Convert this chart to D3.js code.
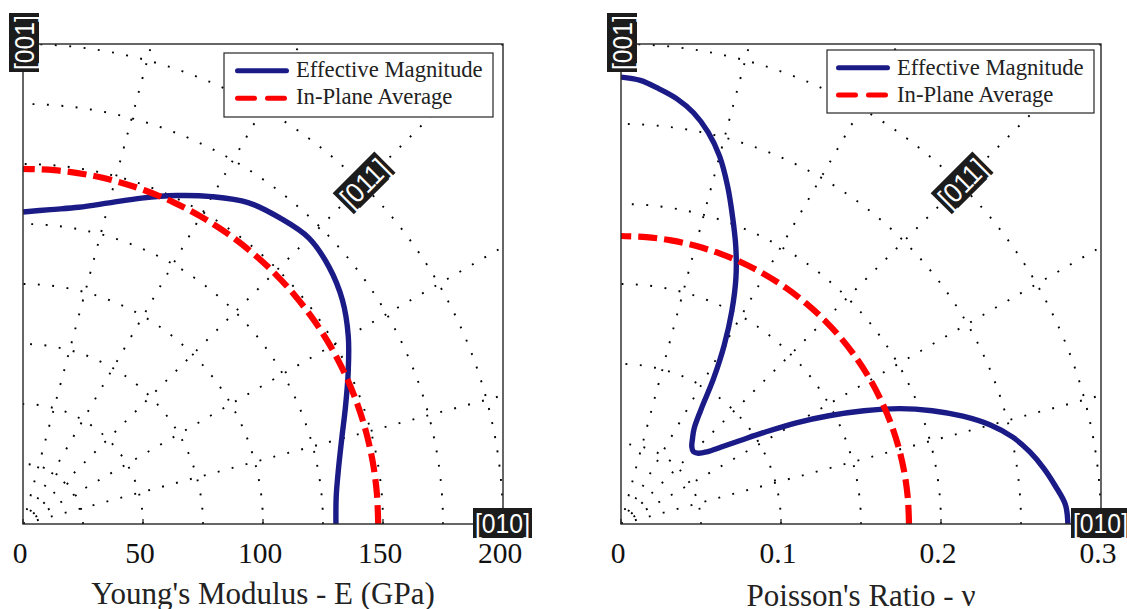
<!DOCTYPE html>
<html><head><meta charset="utf-8">
<script src="https://cdn.jsdelivr.net/npm/d3@7"></script>
<style>
body{margin:0;background:#fff}svg{display:block}
.serif{font-family:"Liberation Serif","Times New Roman",Times,"DejaVu Serif",serif}
.sans{font-family:"Liberation Sans",Arial,Helvetica,sans-serif}
</style>
</head><body><svg id="c" width="1127" height="609"></svg>
<script>
// ---------- data ----------
const leftAngles = [0,5,10,15,20,25,30,35,40,45,50,55,60,65,70,75,80,85,90];
const leftEffective = [130.4,131,133.5,137.5,143,149.5,156.5,162.5,166.5,168.5,166.5,163.5,157.5,151,144.5,138.5,134,131.5,130];
const leftInPlane = [148,148,148,148,148,148,148,148,148,148,148,148,148,148,148,148,148,148,148];

const rightAngles = [0,2.5,5,7.5,10,12.5,15,17.5,20,22.5,25,27.5,30,32.5,35,37.5,40,42.5,45,47.5,50,52.5,55,57.5,60,62.5,65,67.5,70,72.5,75,77.5,80,82.5,85,87.5,90];
const rightEffective = [0.2793,0.2780,0.2725,0.2665,0.2595,0.2508,0.2390,0.2240,0.2070,0.1885,0.1675,0.1465,0.1265,0.1070,0.0910,0.0790,0.0702,0.0655,0.0640,0.0655,0.0695,0.0750,0.0870,0.1075,0.1290,0.1500,0.1700,0.1875,0.2040,0.2215,0.2380,0.2510,0.2610,0.2680,0.2730,0.2775,0.2793];
const rightInPlaneAngles = [0,5,10,15,20,25,30,35,40,45,50,55,60,65,70,75,80,85,90];
const rightInPlane = [0.18,0.18,0.18,0.18,0.18,0.18,0.18,0.18,0.18,0.18,0.18,0.18,0.18,0.18,0.18,0.18,0.18,0.18,0.18];

const leftTicks = [0,50,100,150,200];
const rightTicks = [0,0.1,0.2,0.3];
const leftGridRadii = [25,50,75,100,125,150,175,200];
const rightGridRadii = [0.05,0.1,0.15,0.2,0.25,0.3];
const spokeAngles = [15,30,45,60,75];
const legendLabels = ["Effective Magnitude","In-Plane Average"];
const dirLabels = {top:"[001]", diag:"[011]", right:"[010]"};
const xTitles = ["Young's Modulus - E (GPa)","Poisson's Ratio - \u03bd"];

// ---------- style ----------
const BLUE = "#1b1b87", RED = "#ff0000", AX = "#262626";

const svg = d3.select("#c");

function panel(cfg, idx){
  const {ox, oy, size, max} = cfg;
  const x = d3.scaleLinear().domain([0,max]).range([ox, ox+size]);
  const y = d3.scaleLinear().domain([0,max]).range([oy, oy-size]);
  const r = d3.scaleLinear().domain([0,max]).range([0,size]);
  const g = svg.append("g");

  const clipId = "clip"+idx;
  svg.append("clipPath").attr("id",clipId).append("rect")
    .attr("x",ox).attr("y",oy-size).attr("width",size).attr("height",size);

  // grid
  const grid = g.append("g").attr("clip-path",`url(#${clipId})`)
    .attr("fill","none").attr("stroke","#000").attr("stroke-width",1.9)
    .attr("stroke-dasharray","1.9,12.5");
  cfg.gridRadii.forEach(v=>{
    const p = d3.path();
    const rr = r(v);
    p.moveTo(ox+rr, oy);
    p.arc(ox, oy, rr, 0, -Math.PI/2, true);
    grid.append("path").attr("d", p.toString());
  });
  spokeAngles.forEach(a=>{
    const t = a*Math.PI/180, L = size*1.5;
    grid.append("line").attr("x1",ox).attr("y1",oy)
      .attr("x2",ox+L*Math.cos(t)).attr("y2",oy-L*Math.sin(t));
  });

  // curves
  const radial = d3.lineRadial()
    .angle(d=>(90-d[0])*Math.PI/180)
    .radius(d=>r(d[1]))
    .curve(d3.curveCatmullRom.alpha(0.5));
  const curves = g.append("g").attr("clip-path",`url(#${clipId})`)
    .append("g").attr("transform",`translate(${ox},${oy})`);
  curves.append("path")
    .attr("d", radial(cfg.effA.map((a,i)=>[a,cfg.effR[i]])))
    .attr("fill","none").attr("stroke",BLUE).attr("stroke-width",5.4)
    .attr("stroke-linejoin","round");
  curves.append("path")
    .attr("d", radial(cfg.ipA.map((a,i)=>[a,cfg.ipR[i]])))
    .attr("fill","none").attr("stroke",RED).attr("stroke-width",6.2)
    .attr("stroke-dasharray","19,7");

  // axes box
  g.append("rect").attr("x",ox).attr("y",oy-size).attr("width",size).attr("height",size)
    .attr("fill","none").attr("stroke",AX).attr("stroke-width",1.4);
  // ticks
  cfg.ticks.forEach(v=>{
    g.append("line").attr("x1",x(v)).attr("x2",x(v)).attr("y1",oy).attr("y2",oy-5)
      .attr("stroke",AX).attr("stroke-width",1.3);
    g.append("text").attr("class","serif").attr("x",x(v)-3).attr("y",563)
      .attr("text-anchor","middle").attr("font-size",29.5)
      .attr("fill","#111").text(cfg.fmt(v));
  });
  g.append("text").attr("class","serif").attr("x",ox+size/2).attr("y",cfg.titleY)
    .attr("text-anchor","middle").attr("font-size",31)
    .attr("fill","#222").text(cfg.title);

  // legend
  const L = cfg.legend;
  const lg = g.append("g");
  lg.append("rect").attr("x",L.x).attr("y",L.y).attr("width",L.w).attr("height",L.h)
    .attr("fill","#fff").attr("stroke",AX).attr("stroke-width",1.2);
  lg.append("line").attr("x1",L.x1).attr("x2",L.x2).attr("y1",L.ly1).attr("y2",L.ly1)
    .attr("stroke",BLUE).attr("stroke-width",5).attr("stroke-linecap","round");
  lg.append("line").attr("x1",L.x1).attr("x2",L.x2).attr("y1",L.ly2).attr("y2",L.ly2)
    .attr("stroke",RED).attr("stroke-width",5).attr("stroke-linecap","round")
    .attr("stroke-dasharray","17,13");
  [L.b1, L.b2].forEach((b,i)=>{
    lg.append("text").attr("class","serif").attr("x",L.tx).attr("y",b)
      .attr("font-size",22.7).attr("fill","#222").text(legendLabels[i]);
  });

  // direction labels
  function tag(cx, cy, rot, txt){
    const t = g.append("g").attr("transform",`translate(${cx},${cy}) rotate(${rot})`);
    t.append("rect").attr("x",-29.5).attr("y",-15).attr("width",59).attr("height",30)
      .attr("fill","#1c1c1c");
    t.append("text").attr("class","sans").attr("x",0).attr("y",0).attr("dy","0.36em")
      .attr("text-anchor","middle").attr("font-size",28).attr("fill","#fff")
      .attr("textLength",55).attr("lengthAdjust","spacingAndGlyphs").text(txt);
  }
  tag(x(0)+1, y(max)-1.5, -90, dirLabels.top);
  const d45 = max*1.005/Math.SQRT2;
  tag(x(d45), y(d45), -45, dirLabels.diag);
  tag(x(max)-0.5, y(0)-1, 0, dirLabels.right);
}

panel({ox:23, oy:524, size:480, max:200, gridRadii:leftGridRadii, ticks:leftTicks,
  fmt:d=>String(d), title:xTitles[0], titleY:603.5,
  effA:leftAngles, effR:leftEffective, ipA:leftAngles, ipR:leftInPlane,
  legend:{x:224,y:53,w:269,h:64,x1:237.5,x2:286.5,ly1:70.7,ly2:98.3,tx:296,b1:77,b2:104}}, 0);

panel({ox:621, oy:524, size:480, max:0.3, gridRadii:rightGridRadii, ticks:rightTicks,
  fmt:d=>d===0?"0":d3.format(".1f")(d), title:xTitles[1], titleY:606,
  effA:rightAngles, effR:rightEffective, ipA:rightInPlaneAngles, ipR:rightInPlane,
  legend:{x:827,y:50,w:267,h:63,x1:838.5,x2:887.5,ly1:67.7,ly2:95,tx:897,b1:75,b2:102}}, 1);
</script></body></html>
